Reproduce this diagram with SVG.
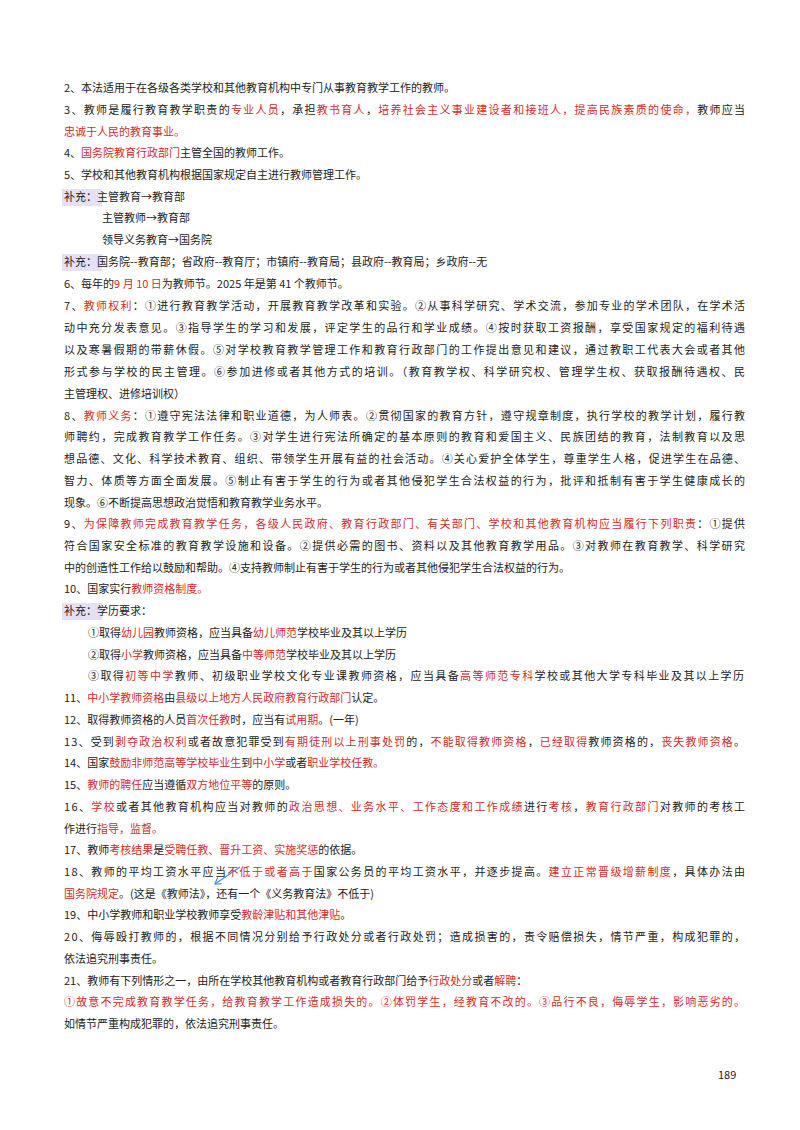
<svg xmlns="http://www.w3.org/2000/svg" width="800" height="1130" viewBox="0 0 800 1130">
<style>
text{font-family:"Noto Sans CJK SC","Liberation Sans",sans-serif;font-size:11px;fill:#222}
.r{fill:#d62b2b}
.hl{fill:#e6e0f4}
</style>
<defs><marker id="ah" markerWidth="8" markerHeight="8" refX="6" refY="4" orient="auto" markerUnits="userSpaceOnUse"><path d="M0,0 L6,4 L0,8" fill="none" stroke="#4a8fd6" stroke-width="1.2"/></marker></defs>
<rect width="800" height="1130" fill="#fff"/>
<g id="highlights">
<rect class="hl" x="62" y="189" width="40" height="17"/>
<rect class="hl" x="62" y="254" width="40" height="17"/>
<rect class="hl" x="62" y="603" width="40" height="17"/>
</g>
<g id="text">
<text x="64" y="92">2、本法适用于在各级各类学校和其他教育机构中专门从事教育教学工作的教师。</text>
<text x="64" y="114" textLength="681" lengthAdjust="spacing">3、教师是履行教育教学职责的<tspan class="r">专业人员</tspan>，承担<tspan class="r">教书育人</tspan>，<tspan class="r">培养社会主义事业建设者和接班人，提高民族素质的使命，</tspan>教师应当</text>
<text x="64" y="136" class="r">忠诚于人民的教育事业。</text>
<text x="64" y="157">4、<tspan class="r">国务院教育行政部门</tspan>主管全国的教师工作。</text>
<text x="64" y="179">5、学校和其他教育机构根据国家规定自主进行教师管理工作。</text>
<text x="64" y="201">补充：主管教育→教育部</text>
<text x="102" y="222">主管教师→教育部</text>
<text x="102" y="244">领导义务教育→国务院</text>
<text x="64" y="266">补充：国务院--教育部；省政府--教育厅；市镇府--教育局；县政府--教育局；乡政府--无</text>
<text x="64" y="288">6、每年的<tspan class="r">9 月 10 日</tspan>为教师节。2025 年是第 41 个教师节。</text>
<text x="64" y="310" textLength="681" lengthAdjust="spacing">7、<tspan class="r">教师权利</tspan>：①进行教育教学活动，开展教育教学改革和实验。②从事科学研究、学术交流，参加专业的学术团队，在学术活</text>
<text x="64" y="332" textLength="681" lengthAdjust="spacing">动中充分发表意见。③指导学生的学习和发展，评定学生的品行和学业成绩。④按时获取工资报酬，享受国家规定的福利待遇</text>
<text x="64" y="354" textLength="681" lengthAdjust="spacing">以及寒暑假期的带薪休假。⑤对学校教育教学管理工作和教育行政部门的工作提出意见和建议，通过教职工代表大会或者其他</text>
<text x="64" y="376" textLength="681" lengthAdjust="spacing">形式参与学校的民主管理。⑥参加进修或者其他方式的培训。（教育教学权、科学研究权、管理学生权、获取报酬待遇权、民</text>
<text x="64" y="398">主管理权、进修培训权）</text>
<text x="64" y="420" textLength="681" lengthAdjust="spacing">8、<tspan class="r">教师义务</tspan>：①遵守宪法法律和职业道德，为人师表。②贯彻国家的教育方针，遵守规章制度，执行学校的教学计划，履行教</text>
<text x="64" y="441" textLength="681" lengthAdjust="spacing">师聘约，完成教育教学工作任务。③对学生进行宪法所确定的基本原则的教育和爱国主义、民族团结的教育，法制教育以及思</text>
<text x="64" y="463" textLength="681" lengthAdjust="spacing">想品德、文化、科学技术教育、组织、带领学生开展有益的社会活动。④关心爱护全体学生，尊重学生人格，促进学生在品德、</text>
<text x="64" y="485" textLength="681" lengthAdjust="spacing">智力、体质等方面全面发展。⑤制止有害于学生的行为或者其他侵犯学生合法权益的行为，批评和抵制有害于学生健康成长的</text>
<text x="64" y="507">现象。⑥不断提高思想政治觉悟和教育教学业务水平。</text>
<text x="64" y="528" textLength="681" lengthAdjust="spacing">9、<tspan class="r">为保障教师完成教育教学任务，各级人民政府、教育行政部门、有关部门、学校和其他教育机构应当履行下列职责</tspan>：①提供</text>
<text x="64" y="550" textLength="681" lengthAdjust="spacing">符合国家安全标准的教育教学设施和设备。②提供必需的图书、资料以及其他教育教学用品。③对教师在教育教学、科学研究</text>
<text x="64" y="572">中的创造性工作给以鼓励和帮助。④支持教师制止有害于学生的行为或者其他侵犯学生合法权益的行为。</text>
<text x="64" y="593">10、国家实行<tspan class="r">教师资格制度。</tspan></text>
<text x="64" y="615">补充：学历要求：</text>
<text x="88" y="637">①取得<tspan class="r">幼儿园</tspan>教师资格，应当具备<tspan class="r">幼儿师范</tspan>学校毕业及其以上学历</text>
<text x="88" y="659">②取得<tspan class="r">小学</tspan>教师资格，应当具备<tspan class="r">中等师范</tspan>学校毕业及其以上学历</text>
<text x="88" y="680" textLength="656" lengthAdjust="spacing">③取得<tspan class="r">初等中学</tspan>教师、初级职业学校文化专业课教师资格，应当具备<tspan class="r">高等师范专科</tspan>学校或其他大学专科毕业及其以上学历</text>
<text x="64" y="702">11、<tspan class="r">中小学教师资格</tspan>由<tspan class="r">县级以上地方人民政府教育行政部门</tspan>认定。</text>
<text x="64" y="724">12、取得教师资格的人员<tspan class="r">首次任教</tspan>时，应当有<tspan class="r">试用期</tspan>。(一年)</text>
<text x="64" y="746" textLength="681" lengthAdjust="spacing">13、受到<tspan class="r">剥夺政治权利</tspan>或者故意犯罪受到<tspan class="r">有期徒刑以上刑事处罚</tspan>的，<tspan class="r">不能取得教师资格</tspan>，<tspan class="r">已经取得</tspan>教师资格的，<tspan class="r">丧失教师资格</tspan>。</text>
<text x="64" y="767">14、国家<tspan class="r">鼓励非师范高等学校毕业生</tspan>到<tspan class="r">中小学</tspan>或者<tspan class="r">职业学校任教。</tspan></text>
<text x="64" y="789">15、<tspan class="r">教师的聘任</tspan>应当遵循<tspan class="r">双方地位平等</tspan>的原则。</text>
<text x="64" y="811" textLength="681" lengthAdjust="spacing">16、<tspan class="r">学校</tspan>或者其他教育机构应当对教师的<tspan class="r">政治思想、业务水平、工作态度和工作成绩</tspan>进行<tspan class="r">考核</tspan>，<tspan class="r">教育行政部门</tspan>对教师的考核工</text>
<text x="64" y="833">作进行<tspan class="r">指导，监督。</tspan></text>
<text x="64" y="854">17、教师<tspan class="r">考核结果</tspan>是<tspan class="r">受聘任教、晋升工资、实施奖惩</tspan>的依据。</text>
<text x="64" y="876" textLength="681" lengthAdjust="spacing">18、教师的平均工资水平应当<tspan class="r">不低于或者高于</tspan>国家公务员的平均工资水平，并逐步提高。<tspan class="r">建立正常晋级增薪制度</tspan>，具体办法由</text>
<text x="64" y="898"><tspan class="r">国务院规定</tspan>。(这是《教师法》，还有一个《义务教育法》不低于)</text>
<text x="64" y="919">19、中小学教师和职业学校教师享受<tspan class="r">教龄津贴和其他津贴</tspan>。</text>
<text x="64" y="941" textLength="681" lengthAdjust="spacing">20、侮辱殴打教师的，根据不同情况分别给予行政处分或者行政处罚；造成损害的，责令赔偿损失，情节严重，构成犯罪的，</text>
<text x="64" y="963">依法追究刑事责任。</text>
<text x="64" y="985">21、教师有下列情形之一，由所在学校其他教育机构或者教育行政部门给予<tspan class="r">行政处分</tspan>或者<tspan class="r">解聘</tspan>：</text>
<text x="64" y="1006" class="r" textLength="681" lengthAdjust="spacing">①故意不完成教育教学任务，给教育教学工作造成损失的。②体罚学生，经教育不改的。③品行不良，侮辱学生，影响恶劣的。</text>
<text x="64" y="1028">如情节严重构成犯罪的，依法追究刑事责任。</text>
<text x="718" y="1079">189</text>
</g>
<g id="connectors">
<line x1="240" y1="867" x2="215" y2="884" stroke="#4a8fd6" stroke-width="1.3" marker-end="url(#ah)"/>
</g>
</svg>
